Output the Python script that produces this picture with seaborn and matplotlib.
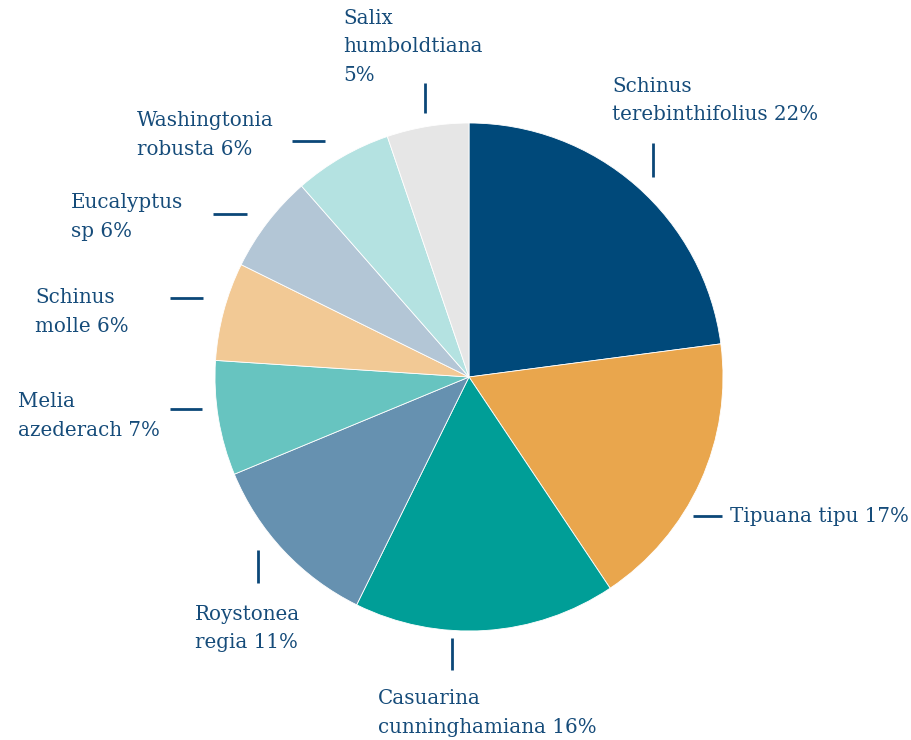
import matplotlib
matplotlib.use("Agg")
import matplotlib.pyplot as plt
import seaborn as sns

# Tree species share (percent)
species = [
    "Schinus\nterebinthifolius", "Tipuana tipu", "Casuarina\ncunninghamiana",
    "Roystonea\nregia", "Melia\nazederach", "Schinus\nmolle", "Eucalyptus\nsp",
    "Washingtonia\nrobusta", "Salix\nhumboldtiana",
]
shares = [22, 17, 16, 11, 7, 6, 6, 6, 5]
slice_colors = ["#00497A", "#E9A64D", "#009E97", "#6691B0", "#67C4C0",
                "#F2C995", "#B3C6D6", "#B4E2E1", "#E6E6E6"]

# Label layout in pixel space: text left x, text block centre y,
# separator between name and percentage, leader line (x0, y0, x1, y1)
label_text_pos = [(612, 100.5), (730, 516), (378, 713), (195, 628.5), (18, 416),
                  (35, 312), (71, 217), (137, 135), (343, 47)]
label_sep = [" ", " ", " ", " ", " ", " ", " ", " ", "\n"]
leader_lines = [(653, 143, 653, 177), (693, 516, 722, 516), (452, 638, 452, 670),
                (258, 550, 258, 583), (170, 409, 202, 409), (170, 298, 203, 298),
                (213, 214, 247, 214), (292, 141, 325, 141), (425, 83, 425, 113)]

W, H = 911, 740
CX, CY, R = 469, 377, 254

sns.set_theme(style="white")
plt.rcParams["font.family"] = ["DejaVu Serif"]

fig = plt.figure(figsize=(W / 100, H / 100), dpi=100)
ax = fig.add_axes([0, 0, 1, 1])


def to_data(px, py):
    return (px - CX) / R, (CY - py) / R


ax.pie(shares, colors=slice_colors, startangle=90, counterclock=False,
       radius=1, center=(0, 0), frame=True,
       wedgeprops=dict(edgecolor="white", linewidth=0.6))
ax.set_xlim(-CX / R, (W - CX) / R)
ax.set_ylim((CY - H) / R, CY / R)
ax.axis("off")

text_color = "#164C7A"
for name, val, (tx, ty), sep, (x0, y0, x1, y1) in zip(
        species, shares, label_text_pos, label_sep, leader_lines):
    dx, dy = to_data(tx, ty)
    ax.text(dx, dy, f"{name}{sep}{val}%", ha="left", va="center",
            fontsize=14.3, color=text_color, linespacing=1.62)
    a, b = to_data(x0, y0)
    c, d = to_data(x1, y1)
    ax.plot([a, c], [b, d], color="#0B4778", linewidth=2, solid_capstyle="butt")

fig.savefig("out.png", dpi=100, facecolor="white")
